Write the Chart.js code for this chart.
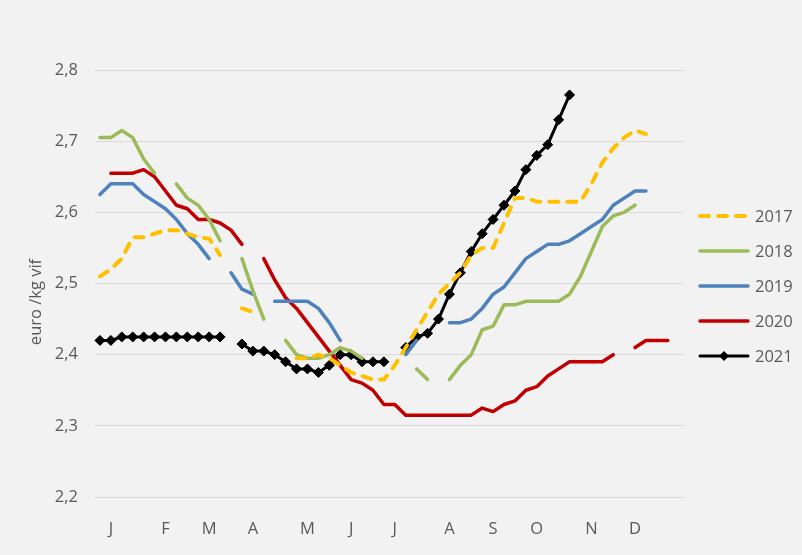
<!DOCTYPE html>
<html>
<head>
<meta charset="utf-8">
<script src="https://cdn.jsdelivr.net/npm/chart.js@4.4.0/dist/chart.umd.min.js"></script>
<style>
  html, body { margin: 0; padding: 0; background: #f2f2f2; }
  canvas { display: block; }
</style>
</head>
<body>
<canvas id="chart" width="802" height="555"></canvas>
<script>
// weekly categories, month letter on the week where Excel shows it
const weekLabels = ["", "J", "", "", "", "", "F", "", "", "", "M", "", "", "", "A", "", "", "", "",
  "M", "", "", "", "J", "", "", "", "J", "", "", "", "", "A", "", "", "", "S", "", "", "",
  "O", "", "", "", "", "N", "", "", "", "D", "", "", "", ""];

const seriesNames = ["2017", "2018", "2019", "2020", "2021"];

const y2017 = [2.51, 2.52, 2.535, 2.565, 2.565, 2.57, 2.575, 2.575, 2.57, 2.565, 2.563, 2.54,
  null, 2.465, 2.46, null, null, null,
  2.395, 2.395, 2.40, 2.395, 2.385, 2.375, 2.37, 2.365, 2.365, 2.385,
  2.41, 2.435, 2.46, 2.485, 2.50, 2.515, 2.54, 2.55, 2.55, 2.585, 2.62, 2.62, 2.615, 2.615,
  2.615, 2.615, 2.615, 2.64, 2.67, 2.69, 2.705, 2.715, 2.71, null, null, null];

const y2018 = [2.705, 2.705, 2.715, 2.705, 2.675, 2.655, null, 2.64, 2.62, 2.61, 2.59, 2.56,
  null, 2.535, 2.49, 2.45, null, 2.42, 2.40, 2.395, 2.395, 2.40, 2.41, 2.405, 2.395,
  null, null, null, null, 2.38, 2.365, null,
  2.365, 2.385, 2.40, 2.435, 2.44, 2.47, 2.47, 2.475, 2.475, 2.475, 2.475, 2.485, 2.51,
  2.545, 2.58, 2.595, 2.60, 2.61, null, null, null, null];

const y2019 = [2.625, 2.64, 2.64, 2.64, 2.625, 2.615, 2.605, 2.59, 2.57, 2.555, 2.535, null,
  2.515, 2.492, 2.485, null, 2.475, 2.475, 2.475, 2.475, 2.465, 2.445, 2.42,
  null, null, null, null, null, 2.40, 2.42, null, null,
  2.445, 2.445, 2.45, 2.465, 2.485, 2.495, 2.515, 2.535, 2.545, 2.555, 2.555, 2.56, 2.57,
  2.58, 2.59, 2.61, 2.62, 2.63, 2.63, null, null, null];

const y2020 = [null, 2.655, 2.655, 2.655, 2.66, 2.65, 2.63, 2.61, 2.605, 2.59, 2.59, 2.585,
  2.575, 2.555, null, 2.535, 2.505, 2.48, 2.465, 2.445, 2.425, 2.405, 2.385, 2.365, 2.36,
  2.35, 2.33, 2.33, 2.315, 2.315, 2.315, 2.315, 2.315, 2.315, 2.315, 2.325, 2.32, 2.33,
  2.335, 2.35, 2.355, 2.37, 2.38, 2.39, 2.39, 2.39, 2.39, 2.40, null, 2.41, 2.42, 2.42, 2.42, null];

const y2021 = [2.42, 2.42, 2.425, 2.425, 2.425, 2.425, 2.425, 2.425, 2.425, 2.425, 2.425, 2.425,
  null, 2.415, 2.405, 2.405, 2.40, 2.39, 2.38, 2.38, 2.375, 2.385, 2.40, 2.40, 2.39, 2.39, 2.39,
  null, 2.41, 2.425, 2.43, 2.45, 2.485, 2.515, 2.545, 2.57, 2.59, 2.61, 2.63, 2.66, 2.68,
  2.695, 2.73, 2.765, null, null, null, null, null, null, null, null, null, null];

const FONT = '16.5px "Open Sans"';
const GREY = '#595959';

function lineSet(label, data, color, width, dash) {
  return {
    label: label,
    data: data,
    borderColor: color,
    backgroundColor: color,
    borderWidth: width,
    borderDash: dash || [],
    borderCapStyle: 'round',
    borderJoinStyle: 'round',
    pointRadius: 0,
    tension: 0,
    spanGaps: false
  };
}

const ds2021 = lineSet(seriesNames[4], y2021, '#000000', 3);
ds2021.pointStyle = 'rectRot';
ds2021.pointRadius = 5;
ds2021.pointBorderWidth = 1;
ds2021.pointBackgroundColor = '#000000';
ds2021.pointBorderColor = '#000000';

// background, rotated axis title and the legend on the right
const extras = {
  id: 'extras',
  beforeDraw(chart) {
    const c = chart.ctx;
    c.save();
    c.fillStyle = '#f2f2f2';
    c.fillRect(0, 0, chart.width, chart.height);
    c.restore();
  },
  afterDraw(chart) {
    const c = chart.ctx;
    c.save();
    c.translate(36, 302);
    c.rotate(-Math.PI / 2);
    c.font = FONT;
    c.fillStyle = GREY;
    c.textAlign = 'center';
    c.textBaseline = 'middle';
    c.fillText('euro /kg vif', 0, 0);
    c.restore();

    chart.data.datasets.forEach((ds, i) => {
      const y = 216 + i * 35;
      c.save();
      c.strokeStyle = ds.borderColor;
      c.lineWidth = ds.borderWidth;
      c.lineCap = 'round';
      c.setLineDash(ds.borderDash);
      c.beginPath();
      c.moveTo(700, y);
      c.lineTo(748, y);
      c.stroke();
      if (ds.pointRadius > 0) {
        const r = ds.pointRadius;
        c.setLineDash([]);
        c.fillStyle = ds.pointBackgroundColor;
        c.beginPath();
        c.moveTo(724, y - r);
        c.lineTo(724 + r, y);
        c.lineTo(724, y + r);
        c.lineTo(724 - r, y);
        c.closePath();
        c.fill();
      }
      c.font = FONT;
      c.fillStyle = GREY;
      c.textAlign = 'left';
      c.textBaseline = 'middle';
      c.fillText(ds.label, 755, y + 1);
      c.restore();
    });
  }
};

new Chart(document.getElementById('chart'), {
  type: 'line',
  data: {
    labels: weekLabels,
    datasets: [
      lineSet(seriesNames[0], y2017, '#FFC000', 4, [9, 9]),
      lineSet(seriesNames[1], y2018, '#9BBB59', 3.5),
      lineSet(seriesNames[2], y2019, '#4F81BD', 3.5),
      lineSet(seriesNames[3], y2020, '#C00000', 3.5),
      ds2021
    ]
  },
  options: {
    responsive: false,
    animation: false,
    layout: { padding: { top: 70, right: 117.8, bottom: 0, left: 0 } },
    plugins: { legend: { display: false }, tooltip: { enabled: false } },
    scales: {
      x: {
        offset: true,
        grid: { display: false },
        border: { display: false },
        ticks: {
          autoSkip: false,
          maxRotation: 0,
          padding: 14,
          color: GREY,
          font: { family: 'Open Sans', size: 16.5 }
        },
        afterFit(scale) { scale.height = 58; }
      },
      y: {
        min: 2.2,
        max: 2.8,
        grid: { color: '#d9d9d9', lineWidth: 1, drawTicks: false },
        border: { display: false },
        ticks: {
          stepSize: 0.1,
          padding: 16.5,
          color: GREY,
          font: { family: 'Open Sans', size: 16.5 },
          callback: (v) => v.toFixed(1).replace('.', ',')
        },
        afterFit(scale) { scale.width = 94.5; }
      }
    }
  },
  plugins: [extras]
});
</script>
</body>
</html>
